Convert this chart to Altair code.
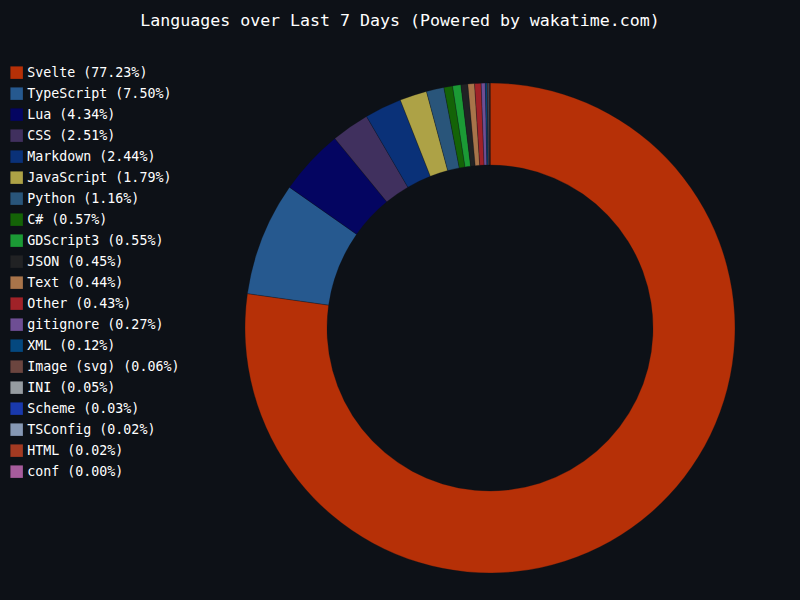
import altair as alt
import pandas as pd

languages = ["Svelte", "TypeScript", "Lua", "CSS", "Markdown", "JavaScript", "Python", "C#",
             "GDScript3", "JSON", "Text", "Other", "gitignore", "XML", "Image (svg)", "INI",
             "Scheme", "TSConfig", "HTML", "conf"]
percents = [77.23, 7.50, 4.34, 2.51, 2.44, 1.79, 1.16, 0.57, 0.55, 0.45, 0.44, 0.43, 0.27,
            0.12, 0.06, 0.05, 0.03, 0.02, 0.02, 0.004]
colors = ["#b63007", "#26598f", "#040561", "#40305e", "#0a3178", "#ada246", "#29557a", "#146307",
          "#1b9a35", "#212224", "#a8744a", "#a02228", "#6e4e94", "#04487f", "#6b453f", "#969ca1",
          "#1939ac", "#8698b4", "#a33a22", "#a65c9c"]
title_text = ["Languages over Last 7 Days (Powered by wakatime.com)"]

labels = [f"{l} ({p:.2f}%)" for l, p in zip(languages, percents)]
df = pd.DataFrame({"label": labels, "value": percents, "idx": list(range(len(labels)))})

BG = "#0d1117"
FONT = "DejaVu Sans Mono"

arc = alt.Chart(df).mark_arc(outerRadius=245, innerRadius=163, stroke=BG, strokeWidth=0.3).encode(
    theta=alt.Theta("value:Q", stack=True),
    order=alt.Order("idx:Q"),
    color=alt.Color(
        "label:N",
        scale=alt.Scale(domain=labels, range=colors),
        sort=labels,
        legend=alt.Legend(
            title=None, orient="none", legendX=10, legendY=66,
            labelColor="#ffffff", labelFont=FONT, labelFontSize=13.3,
            symbolType="square", symbolSize=156, symbolStrokeWidth=0,
            symbolOpacity=1, rowPadding=7, labelOffset=4, labelLimit=300,
        ),
    ),
    x=alt.value(490),
    y=alt.value(328),
)

title = alt.Chart(pd.DataFrame({"t": title_text})).mark_text(
    font=FONT, fontSize=16.6, color="#ffffff", align="center", baseline="middle"
).encode(text="t:N", x=alt.value(400), y=alt.value(21))

chart = alt.layer(arc, title).properties(
    width=800, height=600, background=BG, padding=0,
    autosize=alt.AutoSizeParams(type="none"),
).configure_view(stroke=None)

chart.save("out.html", embed_options={"renderer": "svg", "actions": False})
